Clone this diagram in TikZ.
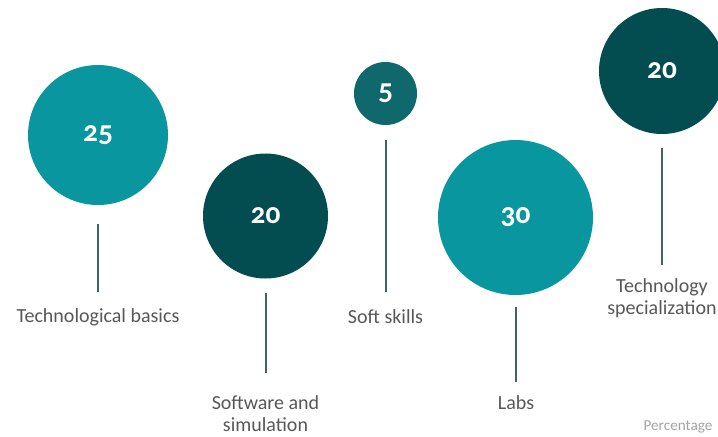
\documentclass[tikz,border=0pt]{standalone}
\usepackage{fontspec}
\setmainfont{Carlito}[Numbers=OldStyle]
\usetikzlibrary{positioning}
\definecolor{tealA}{HTML}{0A969E}
\definecolor{tealB}{HTML}{034C50}
\definecolor{tealC}{HTML}{0F686C}
\definecolor{stemcol}{HTML}{3F6366}
\definecolor{labcol}{HTML}{575757}
\definecolor{notecol}{HTML}{A3A3A3}
\tikzset{
  bubble/.style={circle,inner sep=0pt,text=white,font=\fontsize{22}{22}\selectfont\bfseries},
  stem/.style={draw=stemcol,line width=1.5pt},
  lab/.style={text=labcol,font=\fontsize{15}{16.5}\selectfont,align=center}
}

\begin{document}
\begin{tikzpicture}[x=0.75pt,y=-0.75pt]

\useasboundingbox (0,0) rectangle (718,436);

% bubbles
\node[bubble,fill=tealA,minimum size=105pt] (tb) at (98,135) {25};

\node[bubble,fill=tealB,minimum size=93.75pt] (sw) at (265.5,216) {20};

\node[bubble,fill=tealC,minimum size=47.25pt] (ss) at (385.5,93.5) {5};

\node[bubble,fill=tealA,minimum size=116.25pt] (lb) at (515.5,217.5) {30};

\node[bubble,fill=tealB,minimum size=94.5pt] (ts) at (662,71) {20};

% labels
\node[lab] (tbl) at (98,317) {Technological basics};

\node[lab] (swl) at (265.5,414) {Software and\\simulation};

\node[lab] (ssl) at (385.5,317) {Soft skills};

\node[lab] (lbl) at (516,403) {Labs};

\node[lab] (tsl) at (662,298) {Technology\\specialization};

\node[text=notecol,font=\fontsize{11.4}{12}\selectfont] (pct) at (678,427) {Percentage};

% stems
\coordinate (tbt) at (98,224);   \coordinate (tbb) at (98,292);
\coordinate (swt) at (266,293);  \coordinate (swb) at (266,373);
\coordinate (sst) at (385.5,140); \coordinate (ssb) at (385.5,292);
\coordinate (lbt) at (516,307);  \coordinate (lbb) at (516,382);
\coordinate (tst) at (662,148);  \coordinate (tsb) at (662,265);

\draw[stem] (tbt) -- (tbb);
\draw[stem] (swt) -- (swb);
\draw[stem] (sst) -- (ssb);
\draw[stem] (lbt) -- (lbb);
\draw[stem] (tst) -- (tsb);

\end{tikzpicture}
\end{document}
